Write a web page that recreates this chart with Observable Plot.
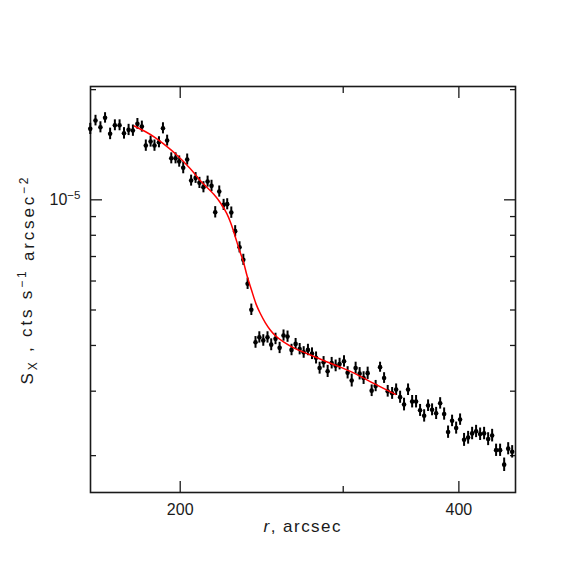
<!DOCTYPE html>
<html><head><meta charset="utf-8">
<script src="https://cdn.jsdelivr.net/npm/d3@7"></script>
<script src="https://cdn.jsdelivr.net/npm/@observablehq/plot@0.6"></script>
<style>html,body{margin:0;padding:0;background:#fff}</style>
</head><body><div id="chart"></div>
<script>
// radius of each annulus, arcsec
const radius = [159.9,162.0,164.0,165.9,168.0,170.0,172.0,173.9,175.9,177.8,
179.8,181.8,183.6,185.8,187.6,189.7,191.6,193.6,195.6,197.7,
199.5,201.5,203.5,205.5,207.8,209.8,211.9,214.1,216.2,218.2,
220.4,222.8,224.8,227.1,229.3,231.8,234.0,236.5,238.7,241.2,
243.5,245.9,248.5,250.8,253.5,256.1,258.6,261.2,263.8,266.5,
269.2,271.9,274.8,277.6,280.4,282.9,285.7,288.6,291.5,294.4,
297.3,300.6,303.3,306.4,309.4,312.5,315.6,318.8,322.0,325.2,
328.8,332.1,335.1,338.8,342.2,345.6,349.0,352.5,356.1,359.6,
363.2,366.9,370.5,374.2,378.0,381.8,385.6,389.4,393.3,397.3,
401.2,405.2,409.3,413.4,417.5,421.7,425.9,430.2,434.5,438.8,
443.2,447.7,452.2,456.7];
// surface brightness, units of 1e-6 cts s^-1 arcsec^-2
const brightness = [15.63,16.47,15.79,16.75,15.15,15.99,15.99,15.20,15.53,15.46,
16.13,15.86,14.07,14.43,14.07,14.37,15.69,14.52,12.99,12.99,
12.73,12.23,12.89,11.29,11.48,11.13,10.83,11.22,10.92,9.25,
10.54,9.69,9.73,9.23,8.21,7.42,6.86,5.90,5.01,4.08,
4.21,4.13,4.21,4.02,4.17,3.94,4.26,4.23,3.89,4.04,
3.91,3.83,3.89,3.80,3.70,3.47,3.60,3.40,3.58,3.52,
3.56,3.62,3.37,3.21,3.47,3.35,3.26,3.36,3.01,3.10,
3.49,3.26,3.00,2.96,3.03,2.89,2.76,3.03,2.81,2.81,
2.66,2.57,2.74,2.67,2.61,2.78,2.60,2.32,2.49,2.38,
2.51,2.21,2.24,2.30,2.33,2.29,2.30,2.22,2.27,2.07,
2.07,1.89,2.09,2.05];
const brightnessErr = [0.55,0.55,0.55,0.55,0.55,0.55,0.55,0.55,0.55,0.55,
0.55,0.55,0.50,0.50,0.50,0.50,0.55,0.50,0.45,0.45,
0.45,0.45,0.45,0.39,0.39,0.39,0.38,0.39,0.39,0.33,
0.37,0.34,0.34,0.33,0.29,0.26,0.24,0.21,0.18,0.15,
0.15,0.15,0.15,0.15,0.15,0.14,0.15,0.15,0.14,0.14,
0.14,0.14,0.14,0.14,0.14,0.13,0.13,0.13,0.13,0.13,
0.13,0.13,0.13,0.13,0.13,0.13,0.13,0.13,0.11,0.11,
0.11,0.11,0.11,0.11,0.11,0.11,0.11,0.11,0.11,0.11,
0.10,0.10,0.10,0.10,0.10,0.10,0.10,0.09,0.09,0.09,
0.09,0.09,0.09,0.09,0.09,0.09,0.09,0.09,0.09,0.08,
0.08,0.08,0.08,0.08];
// model curve
const modelRadius = [178.4,183.3,187.9,191.9,197.5,205.0,210.2,217.3,220.9,224.6,227.1,229.3,231.6,234.0,236.3,238.7,241.6,244.1,247.1,250.2,253.3,258.6,265.2,274.2,285.7,297.9,310.5,323.6,341.6];
const modelBrightness = [15.91,15.37,14.80,14.22,13.38,12.18,11.29,10.37,9.83,9.17,8.56,7.94,7.32,6.78,6.17,5.69,5.18,4.89,4.62,4.41,4.26,4.09,3.94,3.80,3.64,3.49,3.33,3.15,2.94];

const xMajorTicks = [200, 400];
const xMinorTicks = [300];
const xTickLabels = ["200", "400"];
const yMajorTicks = [1e-5];
const yMinorTicks = [2e-6,3e-6,4e-6,5e-6,6e-6,7e-6,8e-6,9e-6,2e-5];

const unit = 1e-6;
const points = radius.map((r, i) => ({
  r, s: brightness[i] * unit,
  lo: (brightness[i] - brightnessErr[i]) * unit,
  hi: (brightness[i] + brightnessErr[i]) * unit
}));
const model = modelRadius.map((r, i) => ({r, s: modelBrightness[i] * unit}));

const font = "'Liberation Sans', Arial, sans-serif";
const ink = "#1a1a1a";
const tickW = 1.3;
const hide = () => "";

const plot = Plot.plot({
  width: 581, height: 581,
  marginLeft: 90, marginRight: 66, marginTop: 86, marginBottom: 89,
  style: {fontFamily: font, fontSize: "16px", background: "#fff", color: ink},
  x: {type: "log", domain: [160, 460.5]},
  y: {type: "log", domain: [1.586e-6, 2.04e-5]},
  marks: [
    Plot.axisX(xMajorTicks, {anchor: "bottom", tickSize: -11, tickFormat: hide, label: null, strokeWidth: tickW}),
    Plot.axisX(xMinorTicks, {anchor: "bottom", tickSize: -6, tickFormat: hide, label: null, strokeWidth: tickW}),
    Plot.axisX(xMajorTicks, {anchor: "top", tickSize: -11, tickFormat: hide, label: null, strokeWidth: tickW}),
    Plot.axisX(xMinorTicks, {anchor: "top", tickSize: -6, tickFormat: hide, label: null, strokeWidth: tickW}),
    Plot.text(xMajorTicks, {x: d => d, text: (d, i) => xTickLabels[i], frameAnchor: "bottom", lineAnchor: "top", dy: 11, fill: ink, fontSize: 16}),
    Plot.axisY(yMajorTicks, {anchor: "left", tickSize: -12, tickPadding: 22, tickFormat: () => "10^-5", label: null, strokeWidth: tickW}),
    Plot.axisY(yMinorTicks, {anchor: "left", tickSize: -6, tickFormat: hide, label: null, strokeWidth: tickW}),
    Plot.axisY(yMajorTicks, {anchor: "right", tickSize: -12, tickFormat: hide, label: null, strokeWidth: tickW}),
    Plot.axisY(yMinorTicks, {anchor: "right", tickSize: -6, tickFormat: hide, label: null, strokeWidth: tickW}),
    Plot.frame({stroke: ink, strokeWidth: 1.6}),
    Plot.ruleX(points, {x: "r", y1: "lo", y2: "hi", stroke: "#000", strokeWidth: 2}),
    Plot.dot(points, {x: "r", y: "s", r: 2.3, fill: "#000", stroke: "none"}),
    Plot.line(model, {x: "r", y: "s", stroke: "#ff0000", strokeWidth: 1.5, curve: "catmull-rom"})
  ]
});

const svg = d3.select(plot);
// superscript exponent for the y tick label
svg.selectAll("text").each(function () {
  const t = d3.select(this);
  if (t.text() !== "10^-5") return;
  t.text(null);
  t.append("tspan").text("10");
  t.append("tspan").attr("dy", "-0.5em").attr("font-size", "0.72em").text("\u22125");
});

// x axis title
const xl = svg.append("text")
  .attr("x", 302).attr("y", 532)
  .attr("text-anchor", "middle")
  .attr("font-family", font).attr("font-size", 17).attr("fill", ink)
  .attr("textLength", 77).attr("lengthAdjust", "spacing");
xl.append("tspan").attr("font-style", "italic").text("r");
xl.append("tspan").text(", arcsec");

// y axis title
const yl = svg.append("text")
  .attr("transform", "translate(33,281) rotate(-90)")
  .attr("text-anchor", "middle")
  .attr("font-family", font).attr("font-size", 17).attr("fill", ink)
  .attr("textLength", 207).attr("lengthAdjust", "spacing");
yl.append("tspan").text("S");
yl.append("tspan").attr("dy", "0.3em").attr("font-size", "12").text("X");
yl.append("tspan").attr("dy", "-0.3em").text(" , cts s");
yl.append("tspan").attr("dy", "-0.45em").attr("font-size", "12").text("\u22121");
yl.append("tspan").attr("dy", "0.45em").text(" arcsec");
yl.append("tspan").attr("dy", "-0.45em").attr("font-size", "12").text("\u22122");

document.getElementById("chart").appendChild(plot);
</script>
</body></html>
